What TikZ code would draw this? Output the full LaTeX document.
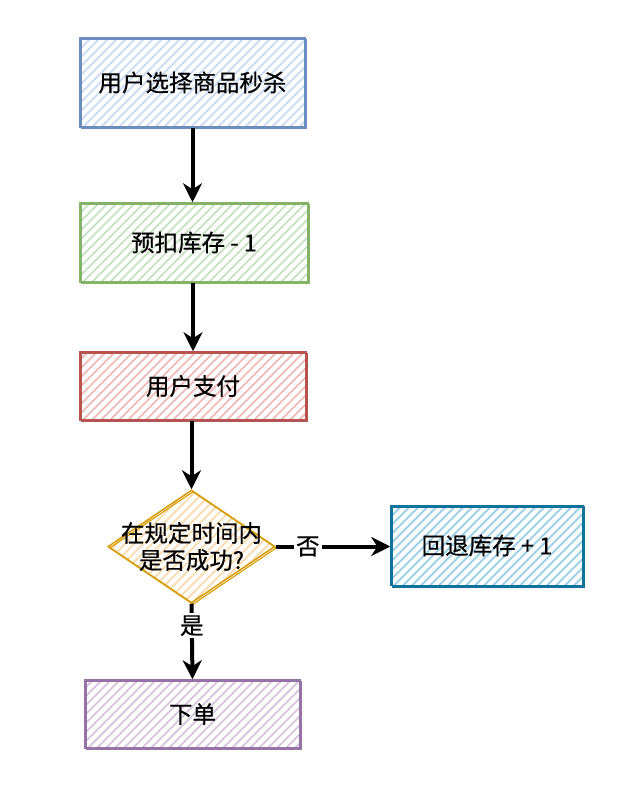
\documentclass[tikz,border=0pt]{standalone}
\usepackage{fontspec}
\setmainfont[FakeBold=0.5]{Noto Sans CJK SC}
\usetikzlibrary{shapes.geometric,arrows.meta}
\definecolor{bF}{HTML}{DAE8FC}\definecolor{bS}{HTML}{6C8EBF}
\definecolor{gF}{HTML}{D5E8D4}\definecolor{gS}{HTML}{82B366}
\definecolor{rF}{HTML}{F8CECC}\definecolor{rS}{HTML}{B85450}
\definecolor{oF}{HTML}{FFE6CC}\definecolor{oS}{HTML}{D79B00}
\definecolor{cF}{HTML}{B1DDF0}\definecolor{cS}{HTML}{10739E}
\definecolor{pF}{HTML}{E1D5E7}\definecolor{pS}{HTML}{9673A6}
\tikzset{
  hatch/.style={path picture={
    \foreach \k in {-240,-231,...,240}{
      \draw[#1,line width=2pt] ([xshift=\k pt]path picture bounding box.south west) -- ++(250pt,250pt);}
  }},
  sketchbox/.style 2 args={draw=#2, line width=1.5pt, hatch={#1!88!#2}, inner sep=0pt,
    font=\fontsize{23.5pt}{27pt}\selectfont,
    postaction={draw=#2, line width=1.1pt, transform canvas={shift={(1.5pt,-1.5pt)}}}},
  flow/.style={line width=4pt, -{Stealth[length=19pt,width=19pt,inset=6pt]}},
  lbl/.style={fill=white, inner sep=2pt, font=\fontsize{23.5pt}{27pt}\selectfont},
}
\begin{document}
\begin{tikzpicture}[x=1pt,y=-1pt]
\useasboundingbox (0,0) rectangle (620,786);
\node[sketchbox={bF}{bS}, minimum width=225pt, minimum height=89pt] (a) at (192.5,82.5) {用户选择商品秒杀};
\node[sketchbox={gF}{gS}, minimum width=228pt, minimum height=79pt] (b) at (194,242.5) {预扣库存 - 1};
\node[sketchbox={rF}{rS}, minimum width=226pt, minimum height=68pt] (c) at (193,386) {用户支付};
\node[diamond, sketchbox={oF}{oS}, minimum width=167pt, minimum height=113pt, aspect=1.48] (d) at (191.5,546.5) {};
\node[align=center, font=\fontsize{23.5pt}{27pt}\selectfont] (dt) at (191.5,546.5) {在规定时间内\\是否成功?};
\node[sketchbox={cF}{cS}, minimum width=192pt, minimum height=80pt] (e) at (487,545.5) {回退库存 + 1};
\node[sketchbox={pF}{pS}, minimum width=215pt, minimum height=68pt] (f) at (192.5,714) {下单};
\draw[flow] (a.south) -- (a.south |- b.north);
\draw[flow] (c.north |- b.south) -- (c.north);
\draw[flow] (d.north |- c.south) -- (d.north);
\draw[flow] (d.east) -- node[lbl, pos=0.28] {否} (d.east -| e.west);
\draw[flow] (d.south) -- node[lbl, pos=0.29] {是} (f.north);
\end{tikzpicture}
\end{document}
